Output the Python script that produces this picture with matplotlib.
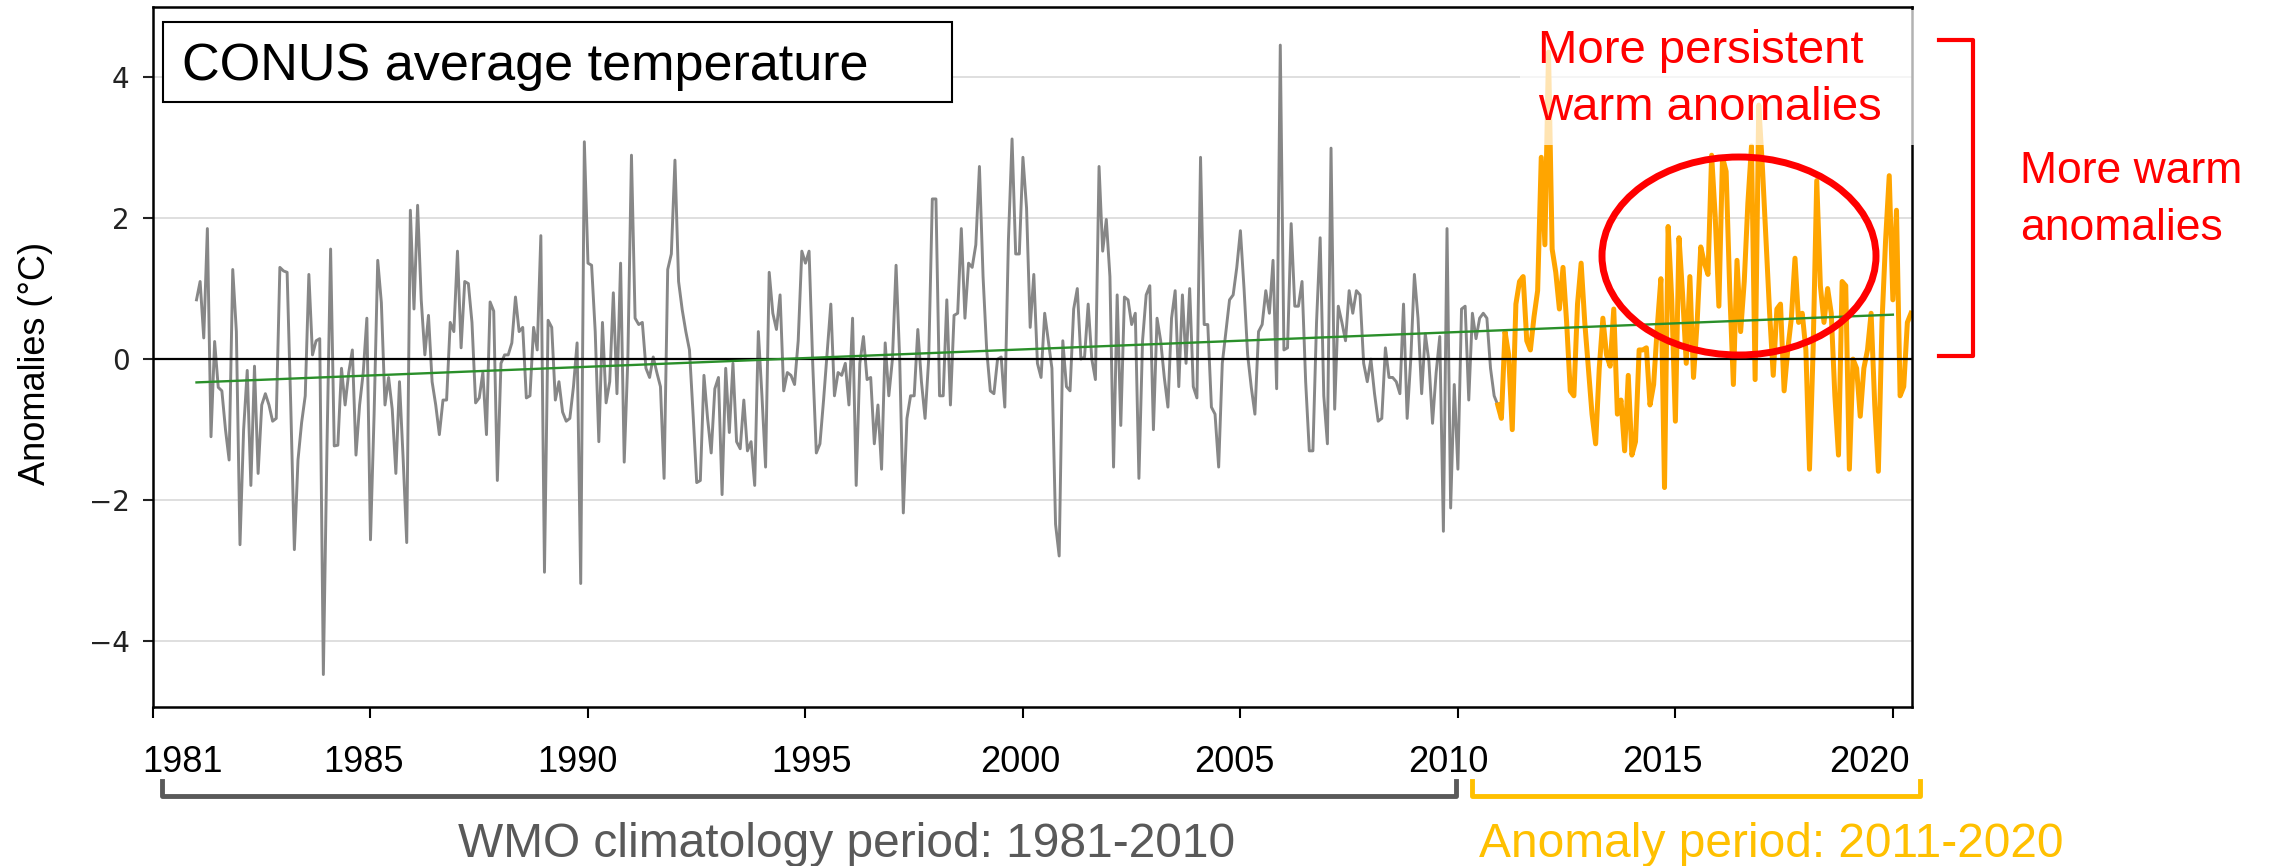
import numpy as np
import matplotlib.pyplot as plt
from matplotlib.patches import Rectangle, Ellipse
from matplotlib.lines import Line2D
from matplotlib.transforms import blended_transform_factory

# monthly CONUS temperature anomalies (degC), Jan 1981 onwards
gray_vals = [
    0.84, 1.1, 0.3, 1.85, -1.1, 0.25, -0.4, -0.45, -1.0, -1.43,
    1.27, 0.39, -2.63, -1.0, -0.16, -1.79, -0.1, -1.62, -0.65, -0.49,
    -0.65, -0.88, -0.84, 1.3, 1.25, 1.23, -0.65, -2.7, -1.43, -0.9,
    -0.52, 1.2, 0.06, 0.26, 0.29, -4.47, -1.23, 1.56, -1.23, -1.22,
    -0.13, -0.65, -0.19, 0.13, -1.36, -0.65, -0.19, 0.58, -2.56, -0.78,
    1.4, 0.8, -0.65,
    -0.26, -0.71, -1.62, -0.32, -1.4, -2.6, 2.11, 0.71, 2.18, 0.84,
    0.06, 0.62, -0.32, -0.65, -1.07, -0.58, -0.58, 0.52, 0.39, 1.53,
    0.16, 1.1, 1.07, 0.52, -0.62, -0.55, -0.19, -1.07, 0.81, 0.68,
    -1.72, -0.06, 0.06, 0.06, 0.23, 0.88, 0.39, 0.45, -0.55, -0.52,
    0.45, 0.13, 1.75, -3.02, 0.55, 0.45, -0.58, -0.32, -0.75, -0.88,
    -0.84, -0.39, 0.23, -3.18, 3.08, 1.36, 1.33, 0.39,
    -1.17, 0.52,
    -0.62, -0.32, 0.94, -0.49, 1.36, -1.46, 0.0, 2.89, 0.58, 0.49,
    0.52, -0.13, -0.26, 0.03, -0.19, -0.39, -1.69, 1.27, 1.49, 2.82,
    1.1, 0.7, 0.39, 0.13, -0.78, -1.75, -1.72, -0.23, -0.84, -1.33,
    -0.42, -0.26, -1.92, -0.13, -1.04, -0.06, -1.17, -1.27, -0.58, -1.3,
    -1.17, -1.79, 0.39, -0.52, -1.53, 1.23, 0.65, 0.42, 0.91, -0.45,
    -0.19, -0.23, -0.36, 0.26, 1.53, 1.36, 1.53, -0.06, -1.33, -1.2,
    -0.58, 0.1, 0.78, -0.52, -0.19,
    -0.23, -0.06, -0.65, 0.58, -1.79, -0.06, 0.32, -0.29, -0.26, -1.2,
    -0.65, -1.56, 0.23, -0.52, 0.0, 1.33, 0.0, -2.18, -0.84, -0.52,
    -0.52, 0.42, -0.32, -0.84, 0.0, 2.27, 2.27, -0.52, -0.52, 0.84,
    -0.65, 0.62, 0.65, 1.85, 0.58, 1.36, 1.3, 1.62, 2.73, 1.17,
    0.13, -0.45, -0.49, 0.0, 0.03, -0.68, 1.69, 3.12, 1.49, 1.49,
    2.86, 2.14, 0.45, 1.2, -0.06, -0.26, 0.65, 0.26, -0.13, -2.34,
    -2.79, 0.26,
    -0.39, -0.45, 0.71, 1.0, 0.0, 0.03, 0.78, 0.0, -0.29, 2.73,
    1.53, 1.98, 1.17, -1.53, 0.91, -0.94, 0.88, 0.84, 0.49, 0.65,
    -1.69, 0.26, 0.91, 1.04, -1.0, 0.58, 0.26, -0.26, -0.68, 0.58,
    0.97, -0.39, 0.91, -0.06, 1.0, -0.39, -0.55, 2.86, 0.49, 0.49,
    -0.68, -0.78, -1.53, -0.06, 0.39, 0.84, 0.91, 1.3, 1.82, 1.0,
    0.06, -0.4, -0.78, 0.39, 0.49, 0.97, 0.65, 1.4, -0.42, 4.45,
    0.13, 0.16,
    1.92, 0.75, 0.75, 1.1, -0.32, -1.3, -1.3, 0.52, 1.72, -0.52,
    -1.2, 2.99, -0.71, 0.75, 0.52, 0.26, 0.97, 0.65, 0.97, 0.91,
    -0.06, -0.32, 0.0, -0.49, -0.88, -0.84, 0.16, -0.26, -0.26, -0.32,
    -0.49, 0.78, -0.84, 0.0, 1.2, 0.58, -0.49, 0.36, -0.03, -0.91,
    -0.19, 0.32, -2.44, 1.85, -2.11, -0.36, -1.56, 0.71, 0.75, -0.58,
    0.65, 0.29, 0.58, 0.65, 0.58, -0.13, -0.52,
    -0.65,
]

# anomaly period, starts at month index 359 (overlaps last gray point)
orange_vals = [
    -0.65, -0.84, 0.39, 0.06, -1.0, 0.78, 1.1, 1.17, 0.26, 0.13,
    0.6, 0.97, 2.86, 1.62, 4.35, 1.56, 1.23, 0.71, 1.3, 0.52,
    -0.45, -0.52, 0.78, 1.36, 0.52, -0.13, -0.78, -1.2, -0.13, 0.58,
    0.06, -0.1, 0.71, -0.78, -0.58, -1.3, -0.23, -1.36, -1.17, 0.13,
    0.13, 0.16, -0.65, -0.36, 0.45, 1.14, -1.82, 1.88, 0.84, -0.88,
    1.72, 0.91, -0.06, 1.17, -0.26, 0.52, 1.59, 1.36, 1.2, 2.89,
    2.01, 0.75, 2.86, 2.66, 0.97, -0.36, 1.4,
    0.39, 1.1, 2.21, 3.02, -0.29, 3.6, 2.73, 1.69, 0.65, -0.23,
    0.71, 0.78, -0.45, 0.13, 0.58, 1.43, 0.52, 0.65, 0.13, -1.56,
    0.13, 2.53, 1.04, 0.52, 1.0, 0.65, -0.52, -1.36, 1.1, 1.04,
    -1.56, 0.0, -0.13, -0.81, -0.13, 0.13, 0.65, -0.65, -1.59, 0.52,
    1.69, 2.6, 0.84, 2.11, -0.52, -0.39, 0.52, 0.65,
]

start_year = 1981
orange_start = 359
trend_years = [1981, 2020]
trend_vals = [-0.33, 0.63]

tick_years = [1980, 1985, 1990, 1995, 2000, 2005, 2010, 2015, 2020]
tick_labels = ['1981', '1985', '1990', '1995', '2000', '2005', '2010', '2015', '2020']
label_x = [1980.67, 1984.85, 1989.75, 1995.13, 1999.93, 2004.87, 2009.77, 2014.71, 2019.45]

W, H = 2279, 866
font = 'Liberation Sans'

gray_x = start_year + np.arange(len(gray_vals)) / 12
orange_x = start_year + (orange_start + np.arange(len(orange_vals))) / 12

fig = plt.figure(figsize=(W / 100, H / 100), dpi=100)
ax = fig.add_axes([153 / W, 1 - 707 / H, (1912 - 153) / W, 700 / H])

ax.plot(gray_x, gray_vals, color='#878787', lw=2.1, zorder=2)
ax.plot(orange_x, orange_vals, color='#FFA500', lw=3.6, zorder=2)
ax.axhline(0, color='black', lw=1.6, zorder=3)
ax.plot(trend_years, trend_vals, color='#2a8f2a', lw=1.7, zorder=4)

ax.set_xlim(1980, 2020.44)
ax.set_ylim(-4.93, 4.99)
ax.set_yticks([-4, -2, 0, 2, 4])
ax.set_xticks(tick_years)
ax.set_xticklabels([])
ax.yaxis.grid(True, color='#d9d9d9', lw=1.2)
ax.set_axisbelow(True)
ax.tick_params(axis='y', labelsize=20, length=7, width=1.5, pad=10, colors='#222222')
ax.tick_params(axis='x', length=8, width=1.5)
for s in ax.spines.values():
    s.set_linewidth(1.8)

# year labels under the axis
tr = blended_transform_factory(ax.transData, fig.transFigure)
for xl, lbl in zip(label_x, tick_labels):
    ax.text(xl, 1 - 772 / H, lbl, transform=tr, ha='center', va='baseline',
            fontsize=26, family=font, clip_on=False)

fig.text(36 / W, 1 - 363 / H, 'Anomalies (°C)', rotation=90, ha='center',
         va='center', fontsize=26, family=font)

# faded panel behind the annotation text
fig.add_artist(Rectangle((1520 / W, 1 - 145 / H), 415 / W, 135 / H,
                         transform=fig.transFigure, fc='white', ec='none',
                         alpha=0.7, zorder=10))

# title box
fig.add_artist(Rectangle((163 / W, 1 - 102 / H), (952 - 163) / W, 80 / H,
                         transform=fig.transFigure, fc='white', ec='black',
                         lw=1.5, zorder=11))
fig.text(182 / W, 1 - 80 / H, 'CONUS average temperature', fontsize=37.5,
         family=font, va='baseline', zorder=12)

red = '#FF0000'
fig.text(1538 / W, 1 - 63 / H, 'More persistent', color=red, fontsize=34,
         family=font, va='baseline', zorder=12)
fig.text(1538 / W, 1 - 120 / H, 'warm anomalies', color=red, fontsize=34,
         family=font, va='baseline', zorder=12)
fig.text(2020 / W, 1 - 183 / H, 'More warm', color=red, fontsize=32,
         family=font, va='baseline', zorder=12)
fig.text(2020 / W, 1 - 240 / H, 'anomalies', color=red, fontsize=32,
         family=font, va='baseline', zorder=12)

fig.add_artist(Ellipse((1739 / W, 1 - 256 / H), 274 / W, 198 / H,
                       transform=fig.transFigure, fill=False, ec=red, lw=5,
                       zorder=12))
bx = np.array([1939, 1973, 1973, 1939]) / W
by = 1 - np.array([40, 40, 356, 356]) / H
fig.add_artist(Line2D(bx, by, transform=fig.transFigure, color=red, lw=3,
                      zorder=12))

# period brackets
gx = np.array([162, 162, 1456, 1456]) / W
ox = np.array([1472, 1472, 1920, 1920]) / W
py = 1 - np.array([781, 796, 796, 781]) / H
fig.add_artist(Line2D(gx, py, transform=fig.transFigure, color='#595959', lw=3.5))
fig.add_artist(Line2D(ox, py, transform=fig.transFigure, color='#FFC000', lw=3.5))
fig.text(847 / W, 1 - 857 / H, 'WMO climatology period: 1981-2010', color='#595959',
         fontsize=34.5, family=font, ha='center', va='baseline')
fig.text(1771 / W, 1 - 857 / H, 'Anomaly period: 2011-2020', color='#FFC000',
         fontsize=34.5, family=font, ha='center', va='baseline')

fig.savefig('out.png', dpi=100)
